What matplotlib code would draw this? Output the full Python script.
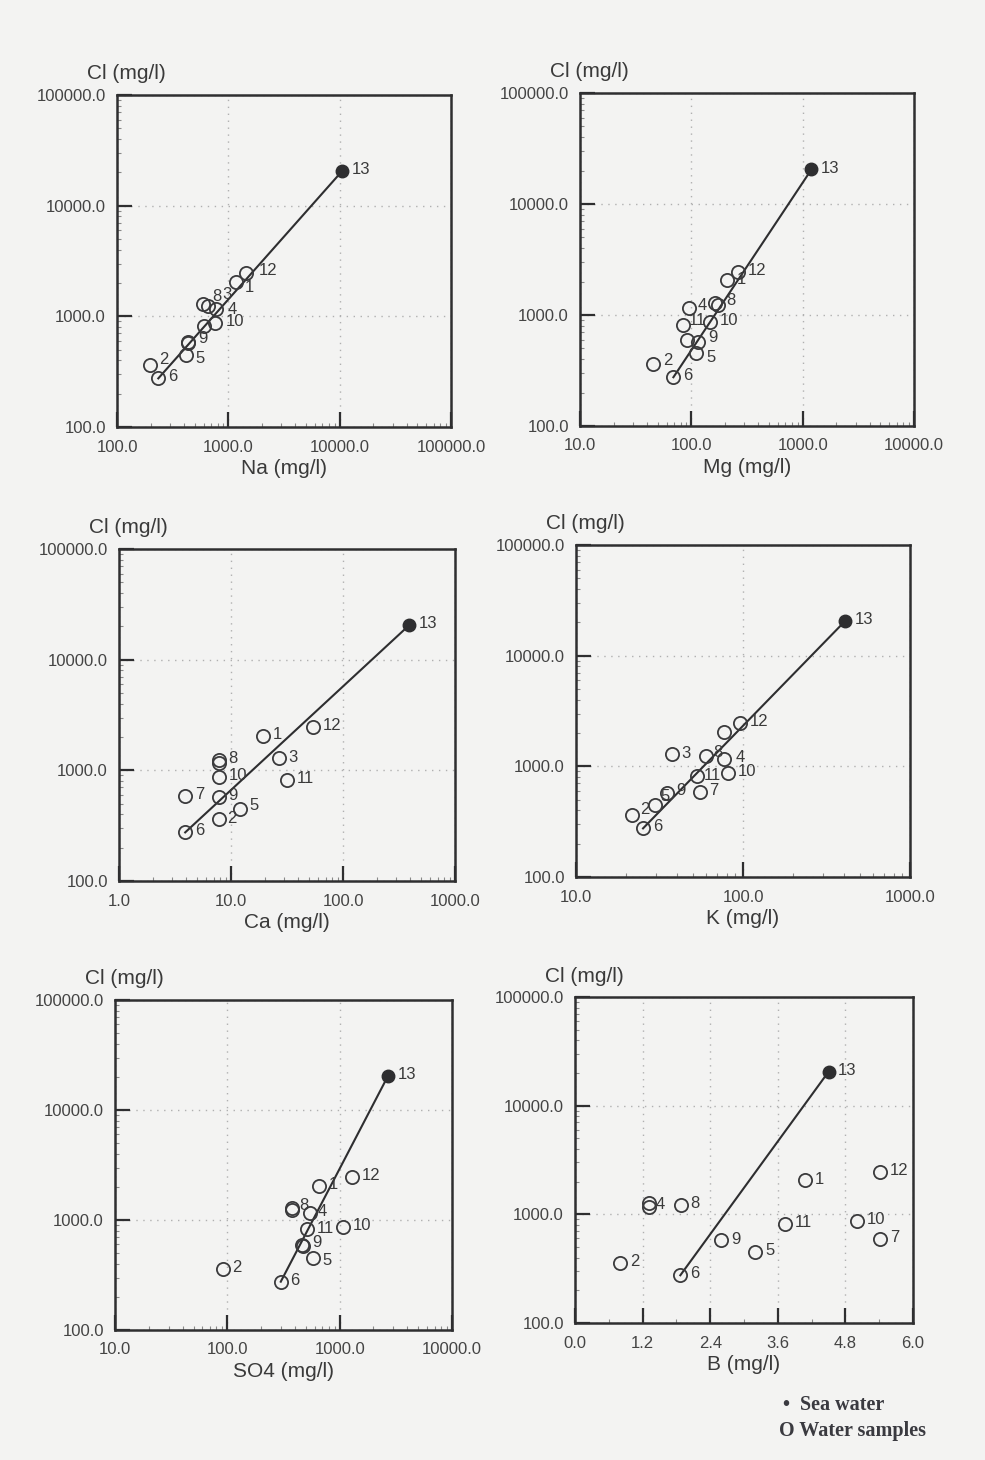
import matplotlib
matplotlib.use("Agg")
import matplotlib.pyplot as plt
from matplotlib.ticker import FixedLocator, FormatStrFormatter, LogLocator, NullFormatter, MultipleLocator

plt.rcParams['font.family'] = ['Liberation Sans', 'DejaVu Sans']

# ---------------- data ----------------
samples = ["1", "2", "3", "4", "5", "6", "7", "8", "9", "10", "11", "12", "13"]
cl = [2050, 360, 1280, 1160, 450, 275, 590, 1230, 575, 870, 820, 2450, 20500]

na = [1170, 196, 590, 780, 417, 235, 430, 660, 436, 752, 603, 1450, 10500]
mg = [210, 45.5, 162, 96, 111, 69, 91, 172, 115, 148, 85, 265, 1200]
ca = [19.3, 7.8, 26.8, 7.8, 12.0, 3.9, 3.9, 7.8, 7.8, 7.8, 31.6, 54, 390]
k = [77, 21.6, 37.6, 77, 29.7, 25.2, 55, 60, 35, 81, 53, 96, 408]
so4 = [650, 91, 380, 540, 575, 299, 460, 380, 470, 1070, 510, 1280, 2700]
b = [4.09, 0.80, 1.31, 1.31, 3.2, 1.87, 5.42, 1.88, 2.6, 5.01, 3.72, 5.42, 4.5]

x_names = ["Na (mg/l)", "Mg (mg/l)", "Ca (mg/l)", "K (mg/l)", "SO4 (mg/l)", "B (mg/l)"]
y_name = "Cl (mg/l)"
y_ticks = [100.0, 1000.0, 10000.0, 100000.0]
na_ticks = [100.0, 1000.0, 10000.0, 100000.0]
mg_ticks = [10.0, 100.0, 1000.0, 10000.0]
ca_ticks = [1.0, 10.0, 100.0, 1000.0]
k_ticks = [10.0, 100.0, 1000.0]
so4_ticks = [10.0, 100.0, 1000.0, 10000.0]
b_ticks = [0.0, 1.2, 2.4, 3.6, 4.8, 6.0]

# labels visible in each panel
shown = [
    ["1", "2", "3", "4", "5", "6", "8", "9", "10", "12", "13"],
    ["1", "2", "4", "5", "6", "8", "9", "10", "11", "12", "13"],
    ["1", "2", "3", "5", "6", "7", "8", "9", "10", "11", "12", "13"],
    ["2", "3", "4", "5", "6", "7", "8", "9", "10", "11", "12", "13"],
    ["1", "2", "4", "5", "6", "8", "9", "10", "11", "12", "13"],
    ["1", "2", "4", "5", "6", "7", "8", "9", "10", "11", "12", "13"],
]
legend_lines = ["•  Sea water", "O Water samples"]

# ---------------- layout ----------------
W, H = 985, 1460
fig = plt.figure(figsize=(W / 100, H / 100), dpi=100)
bg = '#f3f3f2'
fig.patch.set_facecolor(bg)
ink = '#2e2e30'


def rect(l, r, t, bt):
    return [l / W, 1 - bt / H, (r - l) / W, (bt - t) / H]


panels = [
    (rect(117, 451, 95, 427), na, na_ticks, 'log'),
    (rect(580, 914, 93, 426), mg, mg_ticks, 'log'),
    (rect(119, 455, 549, 881), ca, ca_ticks, 'log'),
    (rect(576, 910, 545, 877), k, k_ticks, 'log'),
    (rect(115, 452, 1000, 1330), so4, so4_ticks, 'log'),
    (rect(575, 913, 997, 1323), b, b_ticks, 'lin'),
]

# special label offsets (points)
offsets = {
    (0, "2"): (7, 4), (0, "8"): (3, 7), (0, "3"): (14, 7), (0, "4"): (8, 0),
    (0, "1"): (6, -4), (0, "12"): (9, 2), (0, "9"): (7, 3), (0, "5"): (7, -3),
    (0, "10"): (8, 1),
    (1, "2"): (7, 3), (1, "11"): (4, 3), (1, "8"): (6, 3), (1, "9"): (7, 3),
    (1, "5"): (7, -3), (1, "4"): (6, 2),
    (3, "5"): (4, 6), (3, "11"): (5, 0), (3, "9"): (7, 2), (3, "2"): (6, 4),
    (3, "8"): (5, 3), (3, "4"): (8, 1),
    (4, "8"): (5, 3), (4, "4"): (6, 1), (4, "9"): (7, 3), (4, "5"): (7, -2),
    (2, "2"): (6, 1), (2, "5"): (7, 2),
    (5, "4"): (5, 2),
}

for i, (r, xv, xt, scale) in enumerate(panels):
    ax = fig.add_axes(r)
    ax.set_facecolor(bg)
    ax.set_yscale('log')
    ax.set_ylim(y_ticks[0], y_ticks[-1])
    if scale == 'log':
        ax.set_xscale('log')
        ax.xaxis.set_minor_locator(LogLocator(base=10, subs=range(2, 10)))
        ax.xaxis.set_minor_formatter(NullFormatter())
    else:
        ax.xaxis.set_minor_locator(MultipleLocator(0.6))
    ax.set_xlim(xt[0], xt[-1])
    ax.xaxis.set_major_locator(FixedLocator(xt))
    ax.xaxis.set_major_formatter(FormatStrFormatter('%.1f'))
    ax.yaxis.set_major_locator(FixedLocator(y_ticks))
    ax.yaxis.set_major_formatter(FormatStrFormatter('%.1f'))
    ax.yaxis.set_minor_locator(LogLocator(base=10, subs=range(2, 10)))
    ax.yaxis.set_minor_formatter(NullFormatter())
    ax.tick_params(which='major', direction='in', length=11, width=1.6, colors=ink,
                   labelsize=12, labelcolor='#444444')
    ax.tick_params(axis='y', which='major', pad=8)
    ax.tick_params(axis='x', which='major', pad=9)
    ax.tick_params(which='minor', direction='in', length=3, width=0.8, colors='#888888')
    for s in ax.spines.values():
        s.set_linewidth(1.8)
        s.set_color(ink)
    ax.grid(True, which='major', ls=(0, (1, 4)), color='#b0b0b0', lw=1.0)
    ax.set_axisbelow(True)

    # mixing line between sample 6 and sea water (13)
    i6 = samples.index("6")
    i13 = samples.index("13")
    ax.plot([xv[i6], xv[i13]], [cl[i6], cl[i13]], color=ink, lw=1.5, zorder=2)
    # samples
    for j, s in enumerate(samples):
        if s == "13":
            ax.plot(xv[j], cl[j], 'o', ms=9, mfc=ink, mec=ink, zorder=3)
        else:
            ax.plot(xv[j], cl[j], 'o', ms=9.5, mfc='none', mec='#3a3a3c', mew=1.3, zorder=3)
        if s in shown[i]:
            off = offsets.get((i, s), (7, 1))
            ax.annotate(s, (xv[j], cl[j]), xytext=off, textcoords='offset points',
                        fontsize=12, color='#3a3a3a', ha='left', va='center')

    ax.set_xlabel(x_names[i], fontsize=15, color='#3a3a3a', labelpad=3)
    ax.text(-0.09, 1.035, y_name, transform=ax.transAxes, fontsize=15,
            color='#3a3a3a', ha='left', va='bottom')

fig.text(783 / W, 1 - 1405 / H, legend_lines[0], fontsize=14.5, fontweight='bold',
         family=['Liberation Serif', 'DejaVu Serif'], color='#3a3a40', ha='left', va='center')
fig.text(779 / W, 1 - 1431 / H, legend_lines[1], fontsize=14.5, fontweight='bold',
         family=['Liberation Serif', 'DejaVu Serif'], color='#3a3a40', ha='left', va='center')

fig.savefig('out.png', dpi=100, facecolor=bg)
